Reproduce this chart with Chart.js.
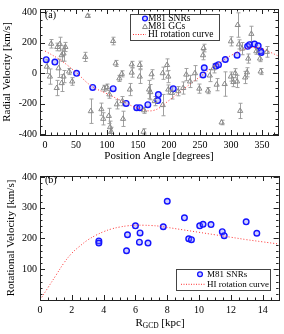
<!DOCTYPE html>
<html>
<head>
<meta charset="utf-8">
<script src="https://cdn.jsdelivr.net/npm/chart.js@4.4.1/dist/chart.umd.min.js"></script>
<style>
  html, body { margin: 0; padding: 0; background: #fff; }
  .panel { position: absolute; left: 0; width: 284px; height: 167px; }
  #wrapA { top: 0; }
  #wrapB { top: 167px; }
</style>
</head>
<body>
<div class="panel" id="wrapA"><canvas id="chartA" width="284" height="167"></canvas></div>
<div class="panel" id="wrapB"><canvas id="chartB" width="284" height="167"></canvas></div>
<script>
// panel (a): radial velocity vs position angle
const snrPA   = [2, 16, 51, 77, 110, 131, 148, 153, 166, 182, 183, 207, 255, 257, 276, 280, 291, 310, 327, 330, 338, 344, 348, 349];
const snrVrad = [88, 72, -2, -94, -102, -199, -227, -227, -207, -180, -141, -102, -12, 35, 46, 55, 89, 117, 175, 186, 190, 179, 145, 135];

const gcPA = [3, 8, 10, 19, 20, 22, 24, 27, 27, 30, 30, 33, 39, 44, 65, 69, 74, 91, 94, 95,
              100, 103, 104, 105, 107, 110, 114, 116, 120, 124, 125, 126, 137, 140, 140, 153, 153, 159, 160, 168,
              170, 172, 177, 190, 190, 197, 199, 199, 205, 215, 223, 228, 234, 242, 249, 255, 256, 263, 266, 272,
              277, 285, 290, 300, 300, 304, 307, 310, 311, 313, 315, 318, 323, 326, 328, 333, 341, 347, 348, 358];
const gcVrad = [42, -23, 192, -98, 171, 31, 190, 117, -66, 128, -23, 171, 10, -55, 106, 375, -250, -237, -300, -100,
                -92, -281, -140, -355, -385, 210, 63, -205, -35, -5, -184, -300, -108, 57, 3, 53, -23, -385, -244, -108,
                -125, -8, -184, -1, -210, 53, -23, -108, -130, -119, -98, -10, -55, -1, -102, 117, 164, -115, -16, 31,
                -76, -324, -72, 208, -23, -59, -1, -55, 315, 188, -248, 160, -29, 5, 95, 257, 143, 95, 10, 139];
const gcErr = [45, 50, 28, 50, 25, 60, 45, 40, 55, 50, 40, 30, 20, 25, 30, 10, 80, 40, 40, 20,
               20, 50, 25, 40, 30, 25, 20, 30, 20, 20, 30, 50, 40, 20, 30, 25, 45, 20, 20, 60,
               50, 30, 30, 40, 70, 40, 40, 30, 40, 30, 40, 40, 40, 50, 30, 30, 25, 20, 40, 30,
               40, 15, 80, 30, 30, 30, 30, 40, 80, 30, 50, 40, 40, 30, 30, 50, 20, 20, 20, 35];

const hiPA   = [0, 25, 50, 75, 100, 125, 150, 175, 200, 225, 250, 275, 300, 325, 340, 350, 375];
const hiVrad = [145, 85, 5, -85, -135, -185, -230, -245, -180, -100, -25, 50, 115, 160, 168, 160, 115];

const paTicks   = [0, 50, 100, 150, 200, 250, 300, 350];
const vradTicks = [-400, -200, 0, 200, 400];

// panel (b): rotational velocity vs galactocentric distance
const snrR    = [3.7, 3.7, 5.44, 5.5, 6.0, 6.25, 6.29, 6.79, 7.75, 8.0, 9.08, 9.35, 9.52, 10.04, 10.25, 10.75, 11.46, 11.58, 12.96, 13.63];
const snrVrot = [192, 185, 160, 212, 241, 188, 218, 185, 238, 321, 267, 199, 196, 241, 246, 245, 222, 209, 254, 217];

const hiR    = [0, 0.5, 1, 1.5, 2, 2.5, 3, 3.5, 4, 4.5, 5, 5.5, 6, 6.5, 7, 7.5, 8, 9, 10, 11, 12, 13, 14, 15];
const hiVrot = [0, 40, 80, 120, 152, 175, 195, 210, 222, 231, 237, 241, 243, 243, 242, 240, 236, 228, 220, 212, 204, 196, 189, 182];

const rTicks    = [0, 2, 4, 6, 8, 10, 12, 14];
const vrotTicks = [100, 200, 300, 400];

const SERIF = '"Liberation Serif", "Times New Roman", serif';
Chart.defaults.font.family = SERIF;
Chart.defaults.color = '#000';

const toXY = (xs, ys) => xs.map((x, i) => ({ x, y: ys[i] }));

/* ── plugins ─────────────────────────────────────────────── */
// IDL-style frame with inward ticks on all four sides
const frameTicks = {
    id: 'frameTicks',
    afterDraw(chart, args, o) {
        const { ctx, chartArea: a, scales } = chart;
        ctx.save();
        ctx.strokeStyle = '#222';
        ctx.lineWidth = 1;
        const tickSet = (scale, step, len, horiz) => {
            const n0 = Math.ceil(scale.min / step), n1 = Math.floor(scale.max / step);
            for (let n = n0; n <= n1; n++) {
                const p = Math.round(scale.getPixelForValue(n * step)) + 0.5;
                ctx.beginPath();
                if (horiz) {
                    ctx.moveTo(p, a.bottom); ctx.lineTo(p, a.bottom - len);
                    ctx.moveTo(p, a.top); ctx.lineTo(p, a.top + len);
                } else {
                    ctx.moveTo(a.left, p); ctx.lineTo(a.left + len, p);
                    ctx.moveTo(a.right, p); ctx.lineTo(a.right - len, p);
                }
                ctx.stroke();
            }
        };
        tickSet(scales.x, o.xMinor, 2.5, true);
        tickSet(scales.x, o.xMajor, 5, true);
        tickSet(scales.y, o.yMinor, 2.5, false);
        tickSet(scales.y, o.yMajor, 5, false);
        ctx.strokeRect(Math.round(a.left) + 0.5, Math.round(a.top) + 0.5,
                       Math.round(a.right - a.left), Math.round(a.bottom - a.top));
        ctx.restore();
    }
};

// vertical error bars for datasets carrying an `errors` array
const errorBars = {
    id: 'errorBars',
    beforeDatasetsDraw(chart) {
        const { ctx, chartArea: a, scales: { x, y } } = chart;
        ctx.save();
        ctx.beginPath();
        ctx.rect(a.left, a.top, a.right - a.left, a.bottom - a.top);
        ctx.clip();
        ctx.strokeStyle = '#a0a0a0';
        ctx.lineWidth = 1;
        chart.data.datasets.forEach(ds => {
            if (!ds.errors) return;
            ds.data.forEach((pt, i) => {
                const px = Math.round(x.getPixelForValue(pt.x)) + 0.5;
                const y0 = y.getPixelForValue(pt.y - ds.errors[i]);
                const y1 = y.getPixelForValue(pt.y + ds.errors[i]);
                ctx.beginPath();
                ctx.moveTo(px, y0); ctx.lineTo(px, y1);
                ctx.moveTo(px - 2, y0); ctx.lineTo(px + 2, y0);
                ctx.moveTo(px - 2, y1); ctx.lineTo(px + 2, y1);
                ctx.stroke();
            });
        });
        ctx.restore();
    }
};

// boxed legend inside the plot plus panel tag and optional subscripted x title
const annotate = {
    id: 'annotate',
    afterDraw(chart, args, o) {
        const { ctx } = chart;
        ctx.save();
        ctx.fillStyle = '#000';
        ctx.textBaseline = 'middle';
        ctx.font = '10px ' + SERIF;
        ctx.fillText(o.tag, o.tagX, o.tagY);

        const L = o.legend;
        ctx.strokeStyle = '#444';
        ctx.lineWidth = 1;
        ctx.strokeRect(L.x + 0.5, L.y + 0.5, L.w, L.h);
        ctx.font = L.fontSize + 'px ' + SERIF;
        L.items.forEach((it, i) => {
            const yy = L.y + L.top + i * L.rowH;
            if (it.kind === 'snr') {
                ctx.beginPath();
                ctx.arc(L.symX, yy, 2.4, 0, Math.PI * 2);
                ctx.fillStyle = 'rgba(120,120,255,0.35)';
                ctx.fill();
                ctx.strokeStyle = '#1414ff';
                ctx.lineWidth = 1.3;
                ctx.stroke();
            } else if (it.kind === 'gc') {
                ctx.beginPath();
                ctx.moveTo(L.symX, yy - 2.5);
                ctx.lineTo(L.symX + 2.5, yy + 2);
                ctx.lineTo(L.symX - 2.5, yy + 2);
                ctx.closePath();
                ctx.strokeStyle = '#888';
                ctx.lineWidth = 1;
                ctx.stroke();
            } else {
                ctx.beginPath();
                ctx.setLineDash([1, 1.5]);
                ctx.moveTo(L.lineX0, yy); ctx.lineTo(L.lineX1, yy);
                ctx.strokeStyle = '#ff3030';
                ctx.lineWidth = 1;
                ctx.stroke();
                ctx.setLineDash([]);
            }
            ctx.fillStyle = '#000';
            ctx.fillText(it.label, L.textX, yy);
        });

        if (o.xTitle) {
            const t = o.xTitle;
            ctx.font = '11px ' + SERIF;
            const w1 = ctx.measureText('R').width;
            ctx.font = '7.5px ' + SERIF;
            const w2 = ctx.measureText('GCD').width;
            ctx.font = '11px ' + SERIF;
            const w3 = ctx.measureText(' [kpc]').width;
            let xx = t.cx - (w1 + w2 + w3) / 2;
            ctx.fillText('R', xx, t.y); xx += w1;
            ctx.font = '7.5px ' + SERIF;
            ctx.fillText('GCD', xx, t.y + 3); xx += w2;
            ctx.font = '11px ' + SERIF;
            ctx.fillText(' [kpc]', xx, t.y);
        }
        ctx.restore();
    }
};

function axis(min, max, tickValues, extra) {
    const base = {
        type: 'linear', min, max,
        grid: { display: false, drawTicks: false },
        border: { display: false },
        afterBuildTicks: s => { s.ticks = tickValues.map(v => ({ value: v })); },
    };
    const t = Object.assign({ autoSkip: false, maxRotation: 0, font: { size: 10 }, color: '#000', padding: 3 },
                            extra.ticks || {});
    return Object.assign(base, extra, { ticks: t });
}

const snrStyle = {
    pointStyle: 'circle',
    pointRadius: 2.8,
    borderColor: '#1414ff',
    backgroundColor: 'rgba(120,120,255,0.35)',
    borderWidth: 1.4,
};
const hiStyle = {
    showLine: true,
    pointRadius: 0,
    borderColor: '#ff3030',
    borderWidth: 1,
    borderDash: [1, 2],
    tension: 0.4,
};

/* ── panel (a) ───────────────────────────────────────────── */
new Chart(document.getElementById('chartA'), {
    type: 'scatter',
    data: {
        datasets: [
            {
                label: 'M81 GCs',
                data: toXY(gcPA, gcVrad),
                errors: gcErr,
                pointStyle: 'triangle',
                pointRadius: 3,
                borderColor: '#8a8a8a',
                backgroundColor: 'rgba(255,255,255,0)',
                borderWidth: 1,
            },
            Object.assign({ label: 'HI rotation curve', data: toXY(hiPA, hiVrad) }, hiStyle),
            Object.assign({ label: 'M81 SNRs', data: toXY(snrPA, snrVrad) }, snrStyle),
        ],
    },
    options: {
        responsive: false,
        animation: false,
        layout: { padding: { top: 5, right: 6, left: 0, bottom: 0 } },
        plugins: {
            legend: { display: false },
            tooltip: { enabled: false },
            frameTicks: { xMajor: 50, xMinor: 10, yMajor: 200, yMinor: 50 },
            annotate: {
                tag: '(a)', tagX: 45, tagY: 15,
                legend: {
                    x: 130, y: 14, w: 89, h: 26, top: 4.5, rowH: 8, fontSize: 9.5,
                    symX: 145, lineX0: 133, lineX1: 146, textX: 148,
                    items: [
                        { kind: 'snr', label: 'M81 SNRs' },
                        { kind: 'gc', label: 'M81 GCs' },
                        { kind: 'hi', label: 'HI rotation curve' },
                    ],
                },
            },
        },
        scales: {
            x: axis(-8, 376, paTicks, {
                ticks: { padding: 4 },
                title: { display: true, text: 'Position Angle [degrees]', font: { size: 11 },
                         padding: { top: 0, bottom: 4 } },
                afterFit: s => { s.height = 32; },
            }),
            y: axis(-406, 420, vradTicks, {
                title: { display: true, text: 'Radial Velocity [km/s]', font: { size: 11 },
                         padding: { top: 1, bottom: 0 } },
                afterFit: s => { s.width = 40; },
            }),
        },
    },
    plugins: [errorBars, frameTicks, annotate],
});

/* ── panel (b) ───────────────────────────────────────────── */
new Chart(document.getElementById('chartB'), {
    type: 'scatter',
    data: {
        datasets: [
            Object.assign({ label: 'HI rotation curve', data: toXY(hiR, hiVrot) }, hiStyle),
            Object.assign({ label: 'M81 SNRs', data: toXY(snrR, snrVrot) }, snrStyle),
        ],
    },
    options: {
        responsive: false,
        animation: false,
        layout: { padding: { top: 3, right: 5, left: 0, bottom: 0 } },
        plugins: {
            legend: { display: false },
            tooltip: { enabled: false },
            frameTicks: { xMajor: 2, xMinor: 0.5, yMajor: 100, yMinor: 20 },
            annotate: {
                tag: '(b)', tagX: 45, tagY: 13,
                xTitle: { cx: 160, y: 156 },
                legend: {
                    x: 176, y: 102, w: 94, h: 21, top: 5.3, rowH: 10, fontSize: 9,
                    symX: 200, lineX0: 181, lineX1: 205, textX: 207,
                    items: [
                        { kind: 'snr', label: 'M81 SNRs' },
                        { kind: 'hi', label: 'HI rotation curve' },
                    ],
                },
            },
        },
        scales: {
            x: axis(0, 15, rTicks, {
                ticks: { padding: 4 },
                afterFit: s => { s.height = 34; },
            }),
            y: axis(0, 403, vrotTicks, {
                title: { display: true, text: 'Rotational Velocity [km/s]', font: { size: 11 },
                         padding: { top: 5, bottom: 0 } },
                afterFit: s => { s.width = 40; },
            }),
        },
    },
    plugins: [frameTicks, annotate],
});
</script>
</body>
</html>
